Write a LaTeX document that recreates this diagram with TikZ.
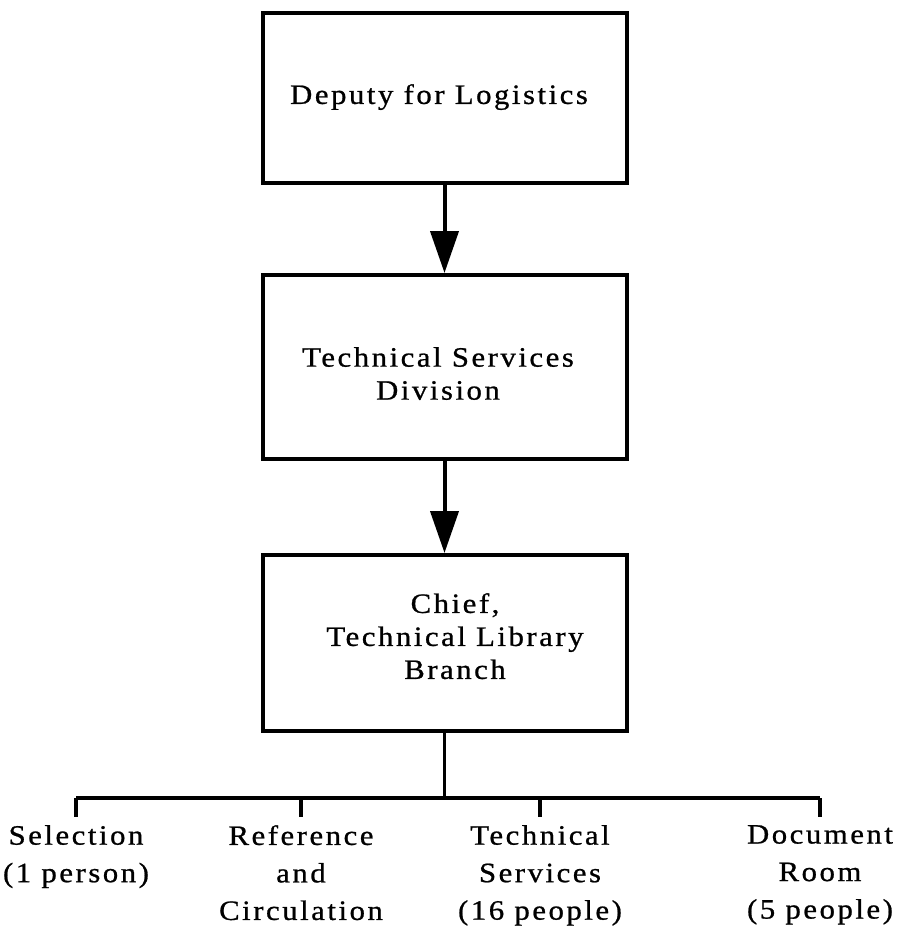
\documentclass[tikz,border=0pt]{standalone}
\usepackage{fontspec}
\setmainfont{Liberation Serif}[FakeStretch=1.1,LetterSpace=9,FakeBold=0.8]
\usetikzlibrary{arrows.meta}
\begin{document}
\begin{tikzpicture}[x=1pt,y=-1pt,
  orgbox/.style={draw=black, line width=4pt, rectangle, minimum width=364pt, inner sep=0pt},
  boxtext/.style={anchor=north, inner sep=0pt, align=center, font=\fontsize{28}{33}\selectfont},
  unit/.style={anchor=north, inner sep=0pt, align=center, font=\fontsize{28}{37.5}\selectfont},
  link/.style={line width=4pt, -{Triangle[length=42pt,width=28pt]}},
  tree/.style={line width=3.2pt}]
\useasboundingbox (0,0) rectangle (899,926);
% boxes
\node[orgbox, minimum height=170pt] (b1) at (444.5,98) {};
\node[orgbox, minimum height=184pt] (b2) at (444.5,367) {};
\node[orgbox, minimum height=176pt] (b3) at (444.5,643) {};
% box texts
\node[boxtext] (t1) at (439,84) {Deputy for Logistics};
\node[boxtext] (t2) at (438,347) {Technical Services\\Division};
\node[boxtext] (t3) at (455,593) {Chief,\\Technical Library\\Branch};
% arrows
\draw[link] (b1.south) -- (b2.north);
\draw[link] (b2.south) -- (b3.north);
% units
\node[unit] (sel) at (76,825) {Selection\\(1 person)};
\node[unit] (ref) at (301,825) {Reference\\and\\Circulation};
\node[unit] (tec) at (540,825) {Technical\\Services\\(16 people)};
\node[unit] (doc) at (820,825) {Document\\Room\\(5 people)};
\coordinate (bar) at (444.5,798);
\draw[tree] (b3.south) -- (bar);
\draw[tree] (sel.north |- bar) -- (doc.north |- bar);
\foreach \u in {sel,ref,tec,doc}{
  \draw[tree, shorten >=8pt] (\u.north |- bar) -- (\u.north);
}
\end{tikzpicture}
\end{document}
